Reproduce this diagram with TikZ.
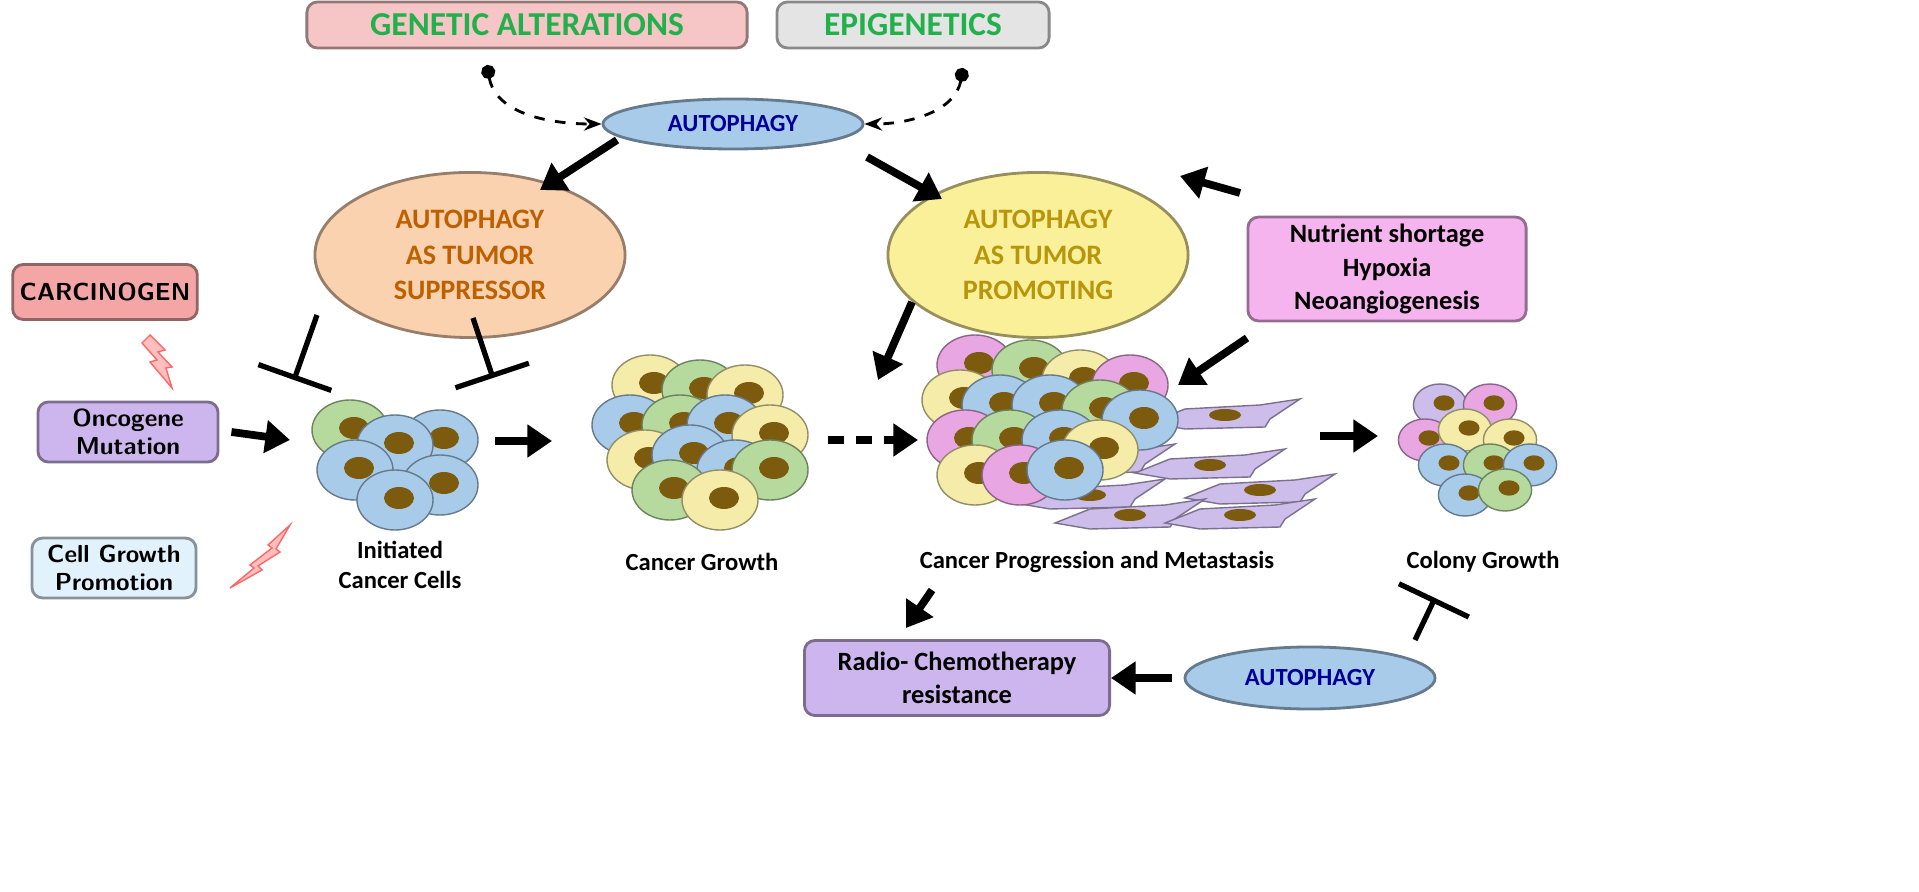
\documentclass[tikz,border=0pt]{standalone}
\usepackage{fontspec}
\setmainfont{Carlito}
\usetikzlibrary{arrows.meta,shapes.geometric,positioning}
\definecolor{cblue}{HTML}{A9CBEA}
\definecolor{cgreen}{HTML}{B6DA9E}
\definecolor{cyell}{HTML}{F4ECA8}
\definecolor{cpink}{HTML}{E8A6E2}
\definecolor{cfib}{HTML}{CDBDEB}
\definecolor{nucl}{HTML}{7D5B0E}
\definecolor{txtgreen}{HTML}{22B04C}
\definecolor{fgen}{HTML}{F6C6C6}
\definecolor{fepi}{HTML}{E4E4E4}
\definecolor{fcarc}{HTML}{F4A6A6}
\definecolor{fviol}{HTML}{CDB6EE}
\definecolor{fcyan}{HTML}{E2F2FC}
\definecolor{fmag}{HTML}{F5B4EE}
\definecolor{fora}{HTML}{FAD2B0}
\definecolor{fyel}{HTML}{FBF09A}
\definecolor{tgold}{HTML}{B8960C}
\tikzset{
  box/.style={draw=#1!60!black, rounded corners=3pt, fill=#1, thick, font=\sffamily\bfseries\fontsize{7}{8}\selectfont, align=center, inner sep=2pt},
  oval/.style={ellipse, draw=#1!60!black, fill=#1, thick, align=center, font=\bfseries\fontsize{7}{8.5}\selectfont, inner sep=0pt},
  arr/.style={-{Triangle[length=7pt,width=9pt]}, line width=2.2pt},
  inh/.style={-{Bar[width=22pt]}, line width=1.5pt},
  dasharr/.style={-{Stealth[length=5pt]}, thick, dashed},
  lbl/.style={font=\bfseries\fontsize{7}{8.5}\selectfont, align=center},
  bolt/.style={fill=red!25, draw=red!60, thin}
}
\newcommand{\cellat}[4]{% x y color scale
  \fill[#3, draw=#3!60!black, thin] (#1,#2) ellipse ({38*#4*0.01cm} and {30*#4*0.01cm});
  \fill[nucl] (#1+4,#2-2) ellipse ({15*#4*0.01cm} and {11*#4*0.01cm});}
\newcommand{\fibat}[2]{%
  \fill[cfib, draw=cfib!60!black, thin] (#1-75,#2+8) -- (#1-40,#2-6) -- (#1+35,#2-10) -- (#1+75,#2-16) -- (#1+45,#2+4) -- (#1+40,#2+12) -- (#1-40,#2+14) -- cycle;
  \fill[nucl] (#1,#2) ellipse (0.16cm and 0.06cm);}
\begin{document}
\begin{tikzpicture}[x=0.01cm,y=-0.01cm]
\useasboundingbox (0,0) rectangle (1919,892);
% top boxes
\node[box=fgen, minimum width=4.4cm, minimum height=0.46cm, text=txtgreen, font=\bfseries\fontsize{9.5}{10}\selectfont] (gen) at (527,25) {GENETIC ALTERATIONS};
\node[box=fepi, minimum width=2.72cm, minimum height=0.46cm, text=txtgreen, font=\bfseries\fontsize{9.5}{10}\selectfont] (epi) at (913,25) {EPIGENETICS};
\node[oval=cblue, minimum width=2.6cm, minimum height=0.5cm, text=blue!60!black] (aut) at (733,124) {AUTOPHAGY};
\coordinate (genDot) at (487,65);
\coordinate (epiDot) at (963,68);
\draw[dasharr, {Circle[length=4pt]}-{Stealth[length=5pt]}] (genDot) to[out=-80,in=180] (aut.west);
\draw[dasharr, {Circle[length=4pt]}-{Stealth[length=5pt]}] (epiDot) to[out=-100,in=0] (aut.east);
% branches
\node[oval=fora, minimum width=3.1cm, minimum height=1.65cm, text=orange!75!black, font=\bfseries\fontsize{8}{10}\selectfont] (sup) at (470,255) {AUTOPHAGY\\AS TUMOR\\SUPPRESSOR};
\node[oval=fyel, minimum width=3.0cm, minimum height=1.65cm, text=tgold, font=\bfseries\fontsize{8}{10}\selectfont] (pro) at (1038,255) {AUTOPHAGY\\AS TUMOR\\PROMOTING};
\draw[arr] (617,140) -- (540,190);
\draw[arr] (867,157) -- (942,199);
\node[box=fmag, minimum width=2.78cm, minimum height=0.98cm, font=\bfseries\fontsize{7.5}{9.5}\selectfont] (nut) at (1387,269) {Nutrient shortage\\Hypoxia\\Neoangiogenesis};
\draw[arr] (1240,193) -- (1180,176);
% left boxes
\node[box=fcarc, minimum width=1.67cm, minimum height=0.55cm] (carc) at (105,292) {CARCINOGEN};
\node[box=fviol, minimum width=1.8cm, minimum height=0.55cm] (onc) at (128,432) {Oncogene\\Mutation};
\node[box=fcyan, minimum width=1.64cm, minimum height=0.57cm] (cgp) at (114,568) {Cell Growth\\Promotion};
\fill[bolt] (150,335) -- (165,350) -- (158,352) -- (172,367) -- (166,368) -- (172,388) -- (150,362) -- (157,360) -- (142,343) -- cycle;
\fill[bolt] (290,525) -- (268,545) -- (272,548) -- (250,565) -- (254,568) -- (230,588) -- (262,570) -- (258,566) -- (280,552) -- (276,549) -- cycle;
% cells
\foreach \x/\y/\c in {350/430/cgreen, 440/440/cblue, 395/445/cblue, 355/470/cblue, 440/485/cblue, 395/500/cblue}
  {\cellat{\x}{\y}{\c}{1}}
\foreach \x/\y/\c in {650/385/cyell, 700/390/cgreen, 745/395/cyell, 630/425/cblue, 680/425/cgreen, 725/425/cblue, 770/435/cyell, 645/460/cyell, 690/455/cblue, 735/470/cblue, 770/470/cgreen, 670/490/cgreen, 720/500/cyell}
  {\cellat{\x}{\y}{\c}{1}}
\foreach \x/\y in {1225/415, 1100/460, 1210/465, 1090/495, 1260/490, 1130/515, 1240/515}
  {\fibat{\x}{\y}}
\foreach \x/\y/\c in {975/365/cpink, 1030/370/cgreen, 1080/380/cyell, 1130/385/cpink, 960/400/cyell, 1000/405/cblue, 1050/405/cblue, 1100/410/cgreen, 1140/420/cblue, 965/440/cpink, 1010/440/cgreen, 1060/440/cblue, 1100/450/cyell, 975/475/cyell, 1020/475/cpink, 1065/470/cblue}
  {\cellat{\x}{\y}{\c}{1}}
\foreach \x/\y/\c in {1440/405/cfib, 1490/405/cpink, 1425/440/cpink, 1465/430/cyell, 1510/440/cyell, 1445/465/cblue, 1490/465/cgreen, 1530/465/cblue, 1465/495/cblue, 1505/490/cgreen}
  {\cellat{\x}{\y}{\c}{0.7}}
% labels
\node[lbl] (init) at (400,565) {Initiated\\Cancer Cells};
\node[lbl] (grow) at (702,562) {Cancer Growth};
\node[lbl] (prog) at (1097,562) {Cancer Progression and Metastasis};
\node[lbl] (col) at (1483,562) {Colony Growth};
% flow
\coordinate (initW) at (290,440); \coordinate (initE) at (495,441);
\coordinate (growW) at (552,441); \coordinate (growE) at (828,440);
\coordinate (progW) at (918,440); \coordinate (progN) at (878,380);
\coordinate (progNE) at (1178,385); \coordinate (progE) at (1320,436);
\coordinate (colW) at (1378,436);
\draw[arr] (onc.east) ++(12,0) -- (initW);
\draw[arr] (initE) -- (growW);
\draw[arr, dash pattern=on 4.5pt off 3.5pt] (growE) -- (progW);
\draw[arr] (912,302) -- (progN);
\draw[arr] (1247,338) -- (progNE);
\draw[arr] (progE) -- (colW);
\draw[inh] (317,315) -- (294,380);
\draw[inh] (473,318) -- (493,378);
% bottom
\node[box=fviol, minimum width=3.05cm, minimum height=0.75cm, font=\bfseries\fontsize{7.5}{9.5}\selectfont] (radio) at (957,678) {Radio- Chemotherapy\\resistance};
\node[oval=cblue, minimum width=2.5cm, minimum height=0.62cm, text=blue!60!black] (aut2) at (1310,678) {AUTOPHAGY};
\draw[arr] (932,590) -- (906,628);
\draw[arr] (aut2.west) ++(-12,0) -- (radio.east);
\draw[inh] (1415,640) -- (1435,598);
\end{tikzpicture}
\end{document}
